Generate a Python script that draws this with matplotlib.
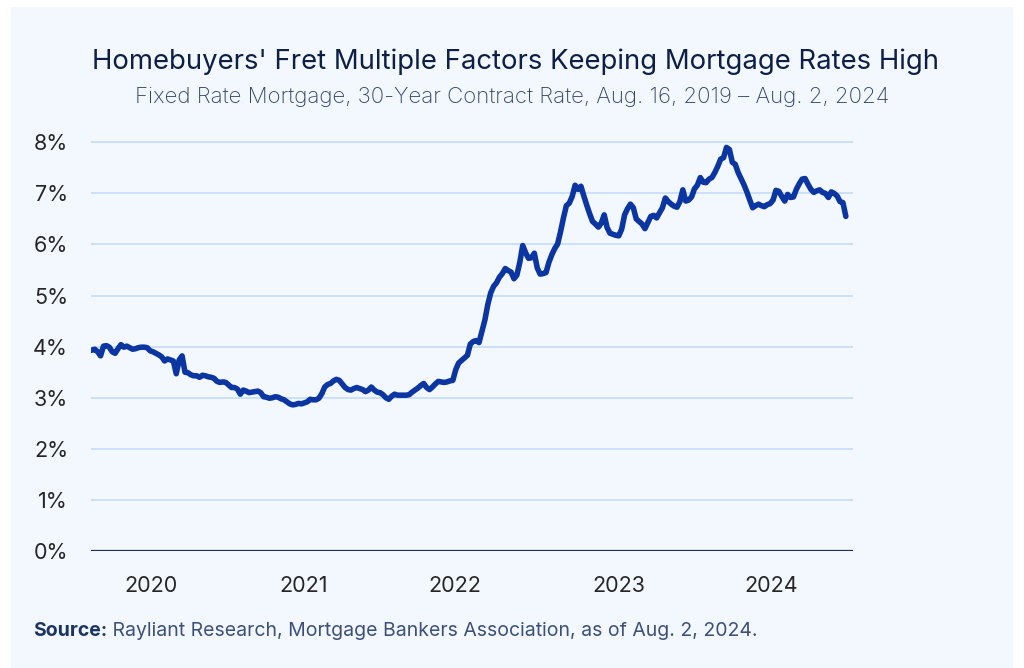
import matplotlib.pyplot as plt
from matplotlib.patches import Rectangle
import pandas as pd

plt.rcParams['font.family'] = ['Inter', 'DejaVu Sans']

# weekly MBA 30-yr contract rate (%), Aug 16 2019 - Aug 2 2024
first_week = '2019-08-16'
rates_2019 = [3.93, 3.95, 3.90, 3.82, 4.01, 4.02, 3.99, 3.90, 3.87, 3.96,
              4.04, 3.99, 4.01, 3.98, 3.95, 3.96, 3.98, 3.99, 3.99, 3.98]
rates_2020 = [3.92, 3.90, 3.87, 3.84, 3.80, 3.72, 3.76, 3.74, 3.72, 3.47,
              3.74, 3.82, 3.50, 3.49, 3.45, 3.43, 3.43, 3.40, 3.44, 3.43,
              3.41, 3.40, 3.38, 3.32, 3.30, 3.31, 3.30, 3.25, 3.20, 3.20,
              3.17, 3.07, 3.15, 3.13, 3.10, 3.11, 3.12, 3.13, 3.10, 3.02,
              3.01, 2.99, 3.00, 3.02, 3.01, 2.98, 2.96, 2.92, 2.88, 2.86,
              2.87, 2.89]
rates_2021 = [2.88, 2.90, 2.92, 2.97, 2.96, 2.96, 2.99, 3.08,
              3.21, 3.26, 3.28, 3.33, 3.36, 3.34, 3.27, 3.20, 3.16, 3.15,
              3.18, 3.20, 3.18, 3.16, 3.12, 3.15, 3.21, 3.15, 3.11, 3.10,
              3.06, 3.00, 2.97, 3.03, 3.07, 3.05, 3.05, 3.05, 3.05, 3.06,
              3.11, 3.15, 3.19, 3.24, 3.28, 3.20, 3.16, 3.21, 3.27, 3.32,
              3.31, 3.30, 3.31, 3.33, 3.34]
rates_2022 = [3.55, 3.68, 3.73, 3.78, 3.83,
              4.05, 4.10, 4.12, 4.08, 4.30, 4.52, 4.82, 5.05, 5.18, 5.25,
              5.36, 5.43, 5.53, 5.49, 5.46, 5.33, 5.40, 5.65, 5.98, 5.84,
              5.73, 5.74, 5.83, 5.54, 5.42, 5.43, 5.45, 5.65, 5.80, 5.92,
              6.01, 6.25, 6.52, 6.76, 6.81, 6.94, 7.16, 7.08, 7.14, 6.95,
              6.77, 6.60, 6.45, 6.40, 6.34, 6.42, 6.58]
rates_2023 = [6.33, 6.22, 6.20,
              6.18, 6.17, 6.30, 6.58, 6.70, 6.79, 6.72, 6.50, 6.45, 6.40,
              6.31, 6.43, 6.55, 6.57, 6.52, 6.62, 6.72, 6.91, 6.84, 6.79,
              6.75, 6.73, 6.84, 7.07, 6.85, 6.87, 6.93, 7.09, 7.16, 7.31,
              7.22, 7.21, 7.28, 7.31, 7.41, 7.53, 7.67, 7.70, 7.90, 7.86,
              7.61, 7.57, 7.41, 7.29, 7.17, 7.03, 6.87, 6.72, 6.76]
rates_2024 = [6.79,
              6.76, 6.74, 6.78, 6.80, 6.87, 7.06, 7.04, 6.94, 6.85, 6.98,
              6.92, 6.93, 7.08, 7.19, 7.28, 7.29, 7.18, 7.08, 7.02, 7.05,
              7.07, 7.02, 7.00, 6.92, 7.03, 7.00, 6.95, 6.84, 6.82, 6.55]

rates = rates_2019 + rates_2020 + rates_2021 + rates_2022 + rates_2023 + rates_2024
weeks = pd.date_range(first_week, periods=len(rates), freq='7D')

year_tick_dates = ['2020-01-05', '2021-01-07', '2022-01-05', '2023-02-03', '2024-02-05']
year_labels = ['2020', '2021', '2022', '2023', '2024']
y_ticks = [0, 1, 2, 3, 4, 5, 6, 7, 8]

fig = plt.figure(figsize=(10.24, 6.68), dpi=100, facecolor='white')
# light panel behind everything
fig.patches.append(Rectangle((11 / 1024, 0), 1002 / 1024, 1 - 7 / 668,
                             transform=fig.transFigure, facecolor='#f3f8fe',
                             edgecolor='none', zorder=-10))

ax = fig.add_axes([91 / 1024, 1 - 551 / 668, 761.5 / 1024, 424 / 668])
ax.set_facecolor('none')

ax.plot(weeks, rates, color='#0b35a1', lw=4, solid_joinstyle='round',
        solid_capstyle='round', zorder=3)

ax.set_ylim(0, 8.3)
ax.set_xlim(pd.Timestamp('2019-08-14'), pd.Timestamp('2024-08-18'))

ax.set_yticks(y_ticks)
ax.set_yticklabels([f'{v}%' for v in y_ticks])
ax.set_xticks(pd.to_datetime(year_tick_dates))
ax.set_xticklabels(year_labels)

ax.grid(axis='y', color='#c5dcf8', lw=1.2)
ax.set_axisbelow(True)
ax.axhline(0, color='#1b2f55', lw=1.6, zorder=4)

for s in ax.spines.values():
    s.set_visible(False)
ax.tick_params(axis='both', length=0, labelsize=15.5, labelcolor='#262626')
ax.tick_params(axis='y', pad=16.5)
ax.tick_params(axis='x', pad=18)

fig.text(0.503, 1 - 62 / 668, "Homebuyers' Fret Multiple Factors Keeping Mortgage Rates High",
         ha='center', va='center', fontsize=19.8, color='#0d1f45')
fig.text(0.5, 1 - 97 / 668,
         'Fixed Rate Mortgage, 30-Year Contract Rate, Aug. 16, 2019 \u2013 Aug. 2, 2024',
         ha='center', va='center', fontsize=16, color='#34466b', fontweight='light')

src = fig.text(33 / 1024, 1 - 631 / 668, 'Source:', ha='left', va='center',
               fontsize=14, fontweight='bold', color='#1b3461')
ax.annotate(' Rayliant Research, Mortgage Bankers Association, as of Aug. 2, 2024.',
            xy=(1, 0.5), xycoords=src, ha='left', va='center', annotation_clip=False,
            fontsize=14, color='#3d5078')

fig.savefig('out.png', dpi=100, facecolor='white')
